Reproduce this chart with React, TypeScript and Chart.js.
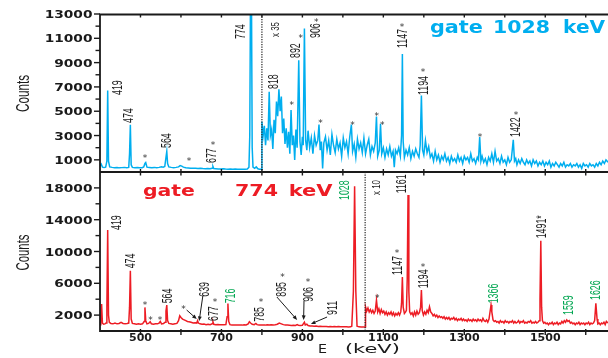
import React, { useEffect, useRef } from "react";
import { Chart, registerables } from "chart.js";
Chart.register(...registerables);

const E_MIN = 400;
const E_MAX = 1655;

// ---- gate 1028 keV spectrum (upper panel); below 800 keV as measured, above 800 keV shown x35 ----
const gate1028LowE = [
  400, 403, 406, 410, 414, 417, 419, 421, 424, 430,
  436, 442, 448, 454, 460, 466, 471, 473, 475, 477,
  480, 486, 492, 498, 504, 508, 511, 513, 516, 522,
  528, 534, 540, 546, 552, 556, 560, 563, 565, 567,
  570, 576, 582, 588, 594, 598, 602, 606, 612, 618,
  624, 630, 636, 642, 648, 654, 660, 666, 672, 677,
  679, 681, 686, 692, 698, 704, 710, 716, 722, 728,
  734, 740, 746, 752, 758, 764, 768, 770, 772, 774,
  776, 778, 782, 786, 790, 794, 798, 800,
];
const gate1028LowCounts = [
  500, 650, 400, 380, 400, 900, 6700, 900, 420, 380,
  350, 370, 340, 360, 380, 350, 380, 1500, 3880, 600,
  380, 350, 360, 340, 350, 420, 700, 780, 400, 380,
  360, 380, 350, 380, 430, 400, 450, 1200, 1690, 700,
  420, 380, 350, 380, 420, 530, 480, 400, 350, 330,
  310, 300, 310, 290, 300, 280, 270, 280, 260, 300,
  450, 280, 270, 250, 240, 260, 240, 230, 250, 230,
  240, 220, 230, 220, 230, 250, 400, 3000, 16000, 16000,
  2000, 400, 300, 420, 260, 230, 220, 250,
];
const gate1028HighE = [
  800, 803, 806, 809, 812, 815, 818, 821, 824, 827,
  830, 833, 836, 839, 842, 845, 848, 851, 854, 857,
  860, 863, 866, 869, 872, 875, 878, 881, 884, 887,
  891, 894, 897, 900, 902, 905, 908, 911, 914, 918,
  922, 926, 930, 934, 938, 941, 944, 947, 950, 953,
  957, 961, 965, 969, 973, 977, 981, 985, 989, 993,
  997, 1001, 1005, 1009, 1013, 1017, 1021, 1024, 1028, 1032,
  1036, 1040, 1044, 1048, 1052, 1056, 1060, 1064, 1068, 1072,
  1076, 1080, 1083, 1086, 1090, 1093, 1096, 1100, 1104, 1108,
  1112, 1116, 1120, 1124, 1127, 1130, 1134, 1138, 1142, 1145,
  1147, 1149, 1152, 1156, 1160, 1164, 1168, 1172, 1176, 1180,
  1184, 1188, 1191, 1194, 1197, 1200, 1204, 1208, 1212, 1216,
  1220, 1224, 1228, 1232, 1236, 1240, 1244, 1248, 1252, 1256,
  1260, 1264, 1268, 1272, 1276, 1280, 1284, 1288, 1292, 1296,
  1300, 1304, 1308, 1312, 1316, 1320, 1324, 1328, 1332, 1335,
  1338, 1341, 1344, 1348, 1352, 1356, 1360, 1364, 1368, 1372,
  1376, 1380, 1384, 1388, 1392, 1396, 1400, 1404, 1408, 1412,
  1416, 1421, 1424, 1427, 1430, 1434, 1438, 1442, 1446, 1450,
  1454, 1458, 1462, 1466, 1470, 1474, 1478, 1482, 1486, 1490,
  1494, 1498, 1502, 1506, 1510, 1514, 1518, 1522, 1526, 1530,
  1534, 1538, 1542, 1546, 1550, 1554, 1558, 1562, 1566, 1570,
  1574, 1578, 1582, 1586, 1590, 1594, 1598, 1602, 1606, 1610,
  1614, 1618, 1622, 1626, 1630, 1634, 1638, 1642, 1646, 1650,
  1655,
];
const gate1028HighCounts = [
  4150, 3000, 3800, 2200, 3600, 2600, 6600, 3000, 3500, 1900,
  4300, 3200, 5800, 4600, 6800, 5000, 6200, 3200, 4400, 2300,
  3600, 2000, 3300, 1500, 5100, 2200, 3000, 1000, 3500, 2000,
  9200, 2500, 1400, 2900, 2200, 11800, 2600, 1800, 3400, 2000,
  2800, 1500, 3000, 2200, 2600, 3900, 1800, 2500, 300, 2400,
  2900, 1800, 2600, 1400, 3100, 2200, 1600, 2700, 1900, 2400,
  1300, 2800, 2000, 2500, 1500, 2900, 3900, 1700, 2300, 1200,
  2700, 1900, 2400, 1600, 2800, 1500, 2200, 2700, 1400, 2100,
  1700, 2400, 4560, 1300, 1800, 3960, 1500, 2000, 1200, 1900,
  1400, 2100, 1300, 1700, 400, 1800, 1500, 2000, 1300, 3000,
  9700, 2500, 1200, 1800, 1400, 2000, 1100, 1700, 1300, 1900,
  1500, 1200, 2200, 6290, 1800, 1400, 2600, 1600, 2100, 1200,
  1500, 900, 1700, 1000, 1400, 800, 1300, 1000, 1500, 900,
  1200, 700, 1300, 900, 1100, 800, 1400, 900, 1200, 700,
  1300, 1000, 1200, 800, 1500, 900, 1100, 700, 1200, 1000,
  2870, 900, 1300, 800, 1100, 600, 1200, 900, 1500, 800,
  1700, 900, 1100, 700, 1300, 800, 1000, 600, 1200, 800,
  1000, 2650, 900, 1100, 600, 1000, 700, 1100, 800, 600,
  1000, 700, 900, 500, 1000, 700, 900, 500, 800, 600,
  900, 500, 800, 600, 900, 400, 700, 500, 800, 600,
  400, 700, 500, 800, 400, 600, 500, 700, 400, 600,
  500, 700, 400, 600, 300, 700, 500, 600, 400, 700,
  500, 600, 400, 700, 500, 800, 600, 900, 700, 1000,
  800,
];

// ---- gate 774 keV spectrum (lower panel); above 1055 keV shown x10 ----
const gate774LowE = [
  400, 402, 404, 406, 409, 412, 415, 417, 419, 421,
  423, 427, 432, 437, 442, 447, 452, 457, 462, 467,
  471, 473, 475, 477, 480, 485, 490, 495, 500, 505,
  509, 511, 513, 516, 520, 524, 527, 532, 537, 542,
  546, 549, 552, 557, 561, 563, 565, 567, 570, 575,
  580, 585, 590, 594, 597, 600, 604, 608, 612, 616,
  620, 625, 630, 635, 639, 641, 643, 647, 652, 657,
  662, 667, 672, 677, 679, 681, 686, 691, 696, 701,
  706, 711, 714, 716, 718, 721, 726, 731, 736, 741,
  746, 751, 756, 761, 766, 769, 772, 776, 781, 785,
  788, 793, 798, 803, 808, 813, 818, 823, 828, 833,
  838, 843, 848, 853, 858, 863, 868, 873, 878, 883,
  887, 890, 895, 900, 903, 905, 907, 911, 914, 919,
  924, 929, 934, 939, 944, 949, 954, 959, 964, 969,
  974, 979, 984, 989, 994, 999, 1004, 1009, 1014, 1019,
  1022, 1026, 1029, 1032, 1035, 1040, 1045, 1050, 1055,
];
const gate774LowCounts = [
  800, 1200, 3390, 1000, 850, 900, 1000, 3000, 12700, 2000,
  1100, 950, 900, 1000, 900, 950, 1100, 950, 900, 950,
  1000, 3000, 7580, 1500, 950, 900, 850, 900, 850, 900,
  1200, 2970, 1300, 900, 950, 1160, 900, 850, 900, 900,
  1000, 1200, 900, 950, 1100, 2500, 3260, 1300, 950, 900,
  850, 900, 950, 1300, 1920, 1700, 1500, 1400, 1300, 1200,
  1150, 1100, 1000, 1050, 1000, 1290, 1000, 900, 850, 880,
  800, 850, 800, 900, 1160, 850, 800, 820, 780, 800,
  780, 800, 1800, 3470, 1200, 800, 760, 740, 760, 740,
  760, 740, 780, 760, 900, 1160, 1000, 850, 800, 950,
  800, 760, 740, 760, 740, 780, 760, 800, 760, 800,
  850, 1000, 900, 800, 760, 740, 720, 700, 720, 700,
  800, 720, 700, 720, 960, 1100, 750, 850, 680, 640,
  620, 600, 620, 580, 600, 570, 560, 580, 550, 560,
  540, 560, 530, 550, 520, 540, 520, 530, 510, 520,
  600, 5000, 18200, 5000, 600, 520, 500, 510, 500,
];
const gate774HighE = [
  1056, 1059, 1062, 1065, 1068, 1071, 1074, 1077, 1080, 1083,
  1086, 1089, 1092, 1095, 1098, 1101, 1104, 1107, 1110, 1113,
  1116, 1119, 1122, 1125, 1128, 1131, 1134, 1137, 1140, 1143,
  1145, 1147, 1149, 1152, 1155, 1157, 1159, 1161, 1163, 1165,
  1168, 1171, 1174, 1177, 1180, 1183, 1186, 1189, 1192, 1194,
  1196, 1199, 1202, 1205, 1208, 1211, 1214, 1217, 1220, 1223,
  1226, 1229, 1232, 1235, 1238, 1241, 1244, 1247, 1250, 1253,
  1256, 1259, 1262, 1265, 1268, 1271, 1274, 1277, 1280, 1283,
  1286, 1289, 1292, 1295, 1298, 1301, 1304, 1307, 1310, 1313,
  1316, 1319, 1322, 1325, 1328, 1331, 1334, 1337, 1340, 1343,
  1346, 1349, 1352, 1355, 1358, 1361, 1363, 1366, 1368, 1371,
  1374, 1377, 1380, 1383, 1386, 1389, 1392, 1395, 1398, 1401,
  1404, 1407, 1410, 1413, 1416, 1419, 1422, 1425, 1428, 1431,
  1434, 1437, 1440, 1443, 1446, 1449, 1452, 1455, 1458, 1461,
  1464, 1467, 1470, 1473, 1476, 1479, 1482, 1485, 1487, 1489,
  1491, 1493, 1496, 1499, 1502, 1505, 1508, 1511, 1514, 1517,
  1520, 1523, 1526, 1529, 1532, 1535, 1538, 1541, 1544, 1547,
  1550, 1553, 1556, 1559, 1562, 1565, 1568, 1571, 1574, 1577,
  1580, 1583, 1586, 1589, 1592, 1595, 1598, 1601, 1604, 1607,
  1610, 1613, 1616, 1619, 1622, 1625, 1628, 1630, 1633, 1636,
  1639, 1642, 1645, 1648, 1651, 1655,
];
const gate774HighCounts = [
  3050, 2500, 2900, 2400, 2700, 2300, 2600, 2200, 2500, 3890,
  2400, 2800, 2200, 2700, 2300, 2500, 2100, 2400, 2000, 2300,
  2100, 2400, 2000, 2300, 1900, 2200, 2000, 2300, 2000, 2400,
  3500, 6800, 3000, 2200, 2400, 2600, 6500, 17100, 5000, 2400,
  2100, 2300, 1900, 2400, 2000, 2500, 2100, 2300, 3000, 5150,
  2600, 2000, 2400, 2100, 2600, 2300, 3050, 2400, 2200, 1900,
  2100, 1800, 2000, 1700, 1900, 1700, 1800, 1600, 1800, 1500,
  1700, 1500, 1700, 1400, 1600, 1500, 1700, 1400, 1600, 1300,
  1500, 1400, 1600, 1300, 1500, 1300, 1400, 1200, 1500, 1300,
  1400, 1200, 1500, 1300, 1400, 1200, 1500, 1300, 1400, 1200,
  1600, 1300, 1200, 1400, 1100, 1500, 2200, 3260, 2400, 1400,
  1200, 1300, 1100, 1200, 1000, 1300, 1100, 1200, 1000, 1300,
  1100, 1200, 1000, 1200, 1100, 1300, 1000, 1200, 1000, 1100,
  1300, 1000, 1200, 1100, 1300, 1000, 1100, 1000, 1200, 1100,
  1300, 1000, 1100, 1000, 1200, 1000, 1100, 1300, 4000, 11360,
  3000, 1300, 1000, 1100, 900, 1000, 800, 1000, 900, 1100,
  800, 1000, 900, 1100, 800, 1000, 900, 1200, 1000, 1300,
  1100, 1400, 1200, 1300, 1000, 1100, 900, 1000, 800, 1000,
  900, 1100, 800, 1000, 900, 1000, 800, 1000, 900, 1100,
  800, 1000, 900, 1000, 1300, 3470, 1500, 900, 1000, 800,
  1000, 900, 1100, 800, 1200, 1000,
];

// ---- axes ----
const xTickValues = [500, 600, 700, 800, 900, 1000, 1100, 1200, 1300, 1400, 1500, 1600];
const xLabelValues = [500, 700, 900, 1100, 1300, 1500];
const topYTickValues = [1000, 2000, 3000, 4000, 5000, 6000, 7000, 8000, 9000, 10000, 11000, 12000, 13000];
const topYLabelValues = [1000, 3000, 5000, 7000, 9000, 11000, 13000];
const botYTickValues = [2000, 4000, 6000, 8000, 10000, 12000, 14000, 16000, 18000];
const botYLabelValues = [2000, 6000, 10000, 14000, 18000];
const topScaleBreak = 800; // x35 above
const botScaleBreak = 1055; // x10 above

// ---- annotations (text, energy, counts) ----
const topPeakLabels: [string, number, number][] = [
  ["419", 442, 6336], ["474", 470, 4032], ["564", 562, 1975], ["677", 675, 741],
  ["774", 746, 10943], ["818", 827, 6829], ["892", 882, 9380], ["906", 931, 11025],
  ["1147", 1145, 10203], ["1194", 1197, 6336], ["1422", 1425, 2880],
];
const topStars: [number, number][] = [
  [511, 1316], [620, 1070], [679, 2386], [874, 5702], [896, 11190], [934, 12507],
  [945, 4221], [1024, 4007], [1084, 4772], [1097, 4007], [1146, 12095], [1198, 8393],
  [1339, 3044], [1428, 4879],
];
const botPeakLabels: [string, number, number, boolean][] = [
  ["419", 440, 12706, false], ["474", 473, 7888, false], ["564", 565, 3485, false],
  ["639", 656, 4315, false], ["677", 679, 1258, false], ["716", 721, 3485, true],
  ["785", 792, 1170, false], ["895", 847, 4315, false], ["906", 913, 3686, false],
  ["911", 972, 2013, false], ["1028", 1003, 16480, true], ["1161", 1144, 17323, false],
  ["1147", 1133, 7045, false], ["1194", 1198, 5372, false], ["1366", 1371, 3485, true],
  ["1491*", 1489, 11662, false], ["1559", 1556, 2013, true], ["1626", 1623, 3900, true],
];
const botStars: [number, number][] = [
  [511, 3485], [525, 1673], [548, 1673], [606, 2981], [684, 3900], [798, 3900],
  [851, 7045], [914, 6416], [1085, 4403], [1134, 10064], [1198, 8302],
];
const botArrows: [number, number, number, number][] = [
  [614, 2642, 639, 1510], [654, 4403, 645, 1258], [837, 4277, 887, 1384],
  [904, 3774, 903, 1384], [961, 1761, 921, 881],
];

const BLUE = "#00AEEF";
const RED = "#ED1C24";
const GREEN = "#00A651";
const INK = "#1a1a1a";
const SANS = '"Liberation Sans", Arial, sans-serif';
const WIDE = '"DejaVu Sans", Verdana, sans-serif';

type TxtOpt = {
  size: number; family?: string; weight?: string; color?: string;
  align?: CanvasTextAlign; rot?: boolean; sx?: number; w?: number; dy?: number;
};

function txt(ctx: CanvasRenderingContext2D, s: string, x: number, y: number, o: TxtOpt) {
  ctx.save();
  ctx.font = `${o.weight ?? "normal"} ${o.size}px ${o.family ?? SANS}`;
  ctx.fillStyle = o.color ?? INK;
  ctx.textAlign = o.align ?? "left";
  ctx.textBaseline = "alphabetic";
  ctx.translate(x, y);
  if (o.rot) ctx.rotate(-Math.PI / 2);
  let sx = o.sx ?? 1;
  if (o.w) sx = o.w / ctx.measureText(s).width;
  ctx.scale(sx, 1);
  ctx.fillText(s, 0, o.dy ?? 0);
  ctx.restore();
}

function peakLabel(ctx: CanvasRenderingContext2D, s: string, x: number, y: number, color = INK) {
  txt(ctx, s, x, y, { size: 14, rot: true, sx: 0.63, dy: 5, color });
}

function star(ctx: CanvasRenderingContext2D, x: number, y: number) {
  txt(ctx, "*", x, y + 5, { size: 9, family: WIDE, align: "center", color: "#333" });
}

function arrow(ctx: CanvasRenderingContext2D, x1: number, y1: number, x2: number, y2: number) {
  const ang = Math.atan2(y2 - y1, x2 - x1);
  const h = 5;
  ctx.save();
  ctx.strokeStyle = INK;
  ctx.fillStyle = INK;
  ctx.lineWidth = 1;
  ctx.beginPath();
  ctx.moveTo(x1, y1);
  ctx.lineTo(x2 - Math.cos(ang) * 3, y2 - Math.sin(ang) * 3);
  ctx.stroke();
  ctx.beginPath();
  ctx.moveTo(x2, y2);
  ctx.lineTo(x2 - h * Math.cos(ang - 0.4), y2 - h * Math.sin(ang - 0.4));
  ctx.lineTo(x2 - h * Math.cos(ang + 0.4), y2 - h * Math.sin(ang + 0.4));
  ctx.closePath();
  ctx.fill();
  ctx.restore();
}

function line(ctx: CanvasRenderingContext2D, x1: number, y1: number, x2: number, y2: number) {
  ctx.beginPath();
  ctx.moveTo(x1, y1);
  ctx.lineTo(x2, y2);
  ctx.stroke();
}

function drawYAxis(ctx: CanvasRenderingContext2D, chart: any, ticks: number[], labels: number[]) {
  const a = chart.chartArea;
  const ys = chart.scales.y;
  ctx.strokeStyle = INK;
  ctx.lineWidth = 1.4;
  for (const v of ticks) {
    const py = ys.getPixelForValue(v);
    const major = labels.includes(v);
    line(ctx, a.left - (major ? 6 : 4.5), py, a.left, py);
    if (major) {
      txt(ctx, String(v), a.left - 7.5, py + 4, { size: 11, family: WIDE, weight: "bold", align: "right", sx: 1.25 });
    }
  }
}

function dotted(ctx: CanvasRenderingContext2D, x: number, y1: number, y2: number) {
  ctx.save();
  ctx.strokeStyle = "#222";
  ctx.lineWidth = 1.2;
  ctx.setLineDash([1.2, 1.3]);
  line(ctx, x, y1, x, y2);
  ctx.restore();
}

const topPlugin = {
  id: "topDecor",
  afterDatasetsDraw(chart: any) {
    const { ctx, chartArea: a } = chart;
    const xs = chart.scales.x;
    const ys = chart.scales.y;
    const X = (e: number) => xs.getPixelForValue(e);
    const Y = (v: number) => ys.getPixelForValue(v);
    ctx.save();
    dotted(ctx, X(topScaleBreak), a.top, a.bottom);
    ctx.strokeStyle = INK;
    ctx.lineWidth = 1.8;
    ctx.beginPath();
    ctx.moveTo(a.left, a.bottom);
    ctx.lineTo(a.left, a.top + 0.5);
    ctx.lineTo(a.right, a.top + 0.5);
    ctx.stroke();
    line(ctx, a.left, a.bottom, a.right, a.bottom);
    ctx.lineWidth = 1.4;
    for (const e of xTickValues) {
      line(ctx, X(e), a.top, X(e), a.top + 3.5);
      line(ctx, X(e), a.bottom - 3, X(e), a.bottom + 3.5);
    }
    drawYAxis(ctx, chart, topYTickValues, topYLabelValues);
    txt(ctx, "Counts", a.left - 77.5, Y(6459), { size: 19, rot: true, align: "center", w: 37, dy: 6.8 });
    for (const [s, e, v] of topPeakLabels) peakLabel(ctx, s, X(e), Y(v));
    for (const [e, v] of topStars) star(ctx, X(e), Y(v));
    txt(ctx, "x 35", X(834), Y(11108), { size: 10, rot: true, w: 15, dy: 3.5 });
    const base = Y(11396);
    txt(ctx, "gate", X(1215), base, { size: 17.5, family: WIDE, weight: "bold", color: BLUE, w: 53 });
    txt(ctx, "1028", X(1371), base, { size: 17.5, family: WIDE, weight: "bold", color: BLUE, w: 57 });
    txt(ctx, "keV", X(1544), base, { size: 17.5, family: WIDE, weight: "bold", color: BLUE, w: 42 });
    ctx.restore();
  },
};

const botPlugin = {
  id: "botDecor",
  afterDatasetsDraw(chart: any) {
    const { ctx, chartArea: a } = chart;
    const xs = chart.scales.x;
    const ys = chart.scales.y;
    const X = (e: number) => xs.getPixelForValue(e);
    const Y = (v: number) => ys.getPixelForValue(v);
    ctx.save();
    dotted(ctx, X(botScaleBreak), a.top, a.bottom);
    ctx.strokeStyle = INK;
    ctx.lineWidth = 1.8;
    ctx.beginPath();
    ctx.moveTo(a.left, a.top);
    ctx.lineTo(a.left, a.bottom);
    ctx.lineTo(a.right, a.bottom);
    ctx.stroke();
    ctx.lineWidth = 1.4;
    for (const e of xTickValues) {
      line(ctx, X(e), a.bottom - 2, X(e), a.bottom + 4);
    }
    for (const e of xLabelValues) {
      txt(ctx, String(e), X(e), a.bottom + 9.7, { size: 10, family: WIDE, weight: "bold", align: "center", sx: 1.1 });
    }
    txt(ctx, "E", X(938.5), a.bottom + 22.3, { size: 11.5, family: WIDE, w: 9 });
    txt(ctx, "(keV)", X(1005), a.bottom + 22.3, { size: 11.5, family: WIDE, w: 55 });
    drawYAxis(ctx, chart, botYTickValues, botYLabelValues);
    txt(ctx, "Counts", a.left - 77.5, Y(9875), { size: 19, rot: true, align: "center", w: 36, dy: 6.8 });
    for (const [x1, y1, x2, y2] of botArrows) arrow(ctx, X(x1), Y(y1), X(x2), Y(y2));
    for (const [s, e, v, g] of botPeakLabels) peakLabel(ctx, s, X(e), Y(v), g ? GREEN : INK);
    for (const [e, v] of botStars) star(ctx, X(e), Y(v));
    txt(ctx, "x 10", X(1084), Y(17109), { size: 10, rot: true, w: 15, dy: 3.5 });
    const base = Y(16983);
    txt(ctx, "gate", X(506), base, { size: 16.5, family: WIDE, weight: "bold", color: RED, w: 52 });
    txt(ctx, "774", X(733.5), base, { size: 16.5, family: WIDE, weight: "bold", color: RED, w: 43 });
    txt(ctx, "keV", X(866), base, { size: 16.5, family: WIDE, weight: "bold", color: RED, w: 44 });
    ctx.restore();
  },
};

function toPoints(E: number[], C: number[]) {
  return E.map((x, i) => ({ x, y: C[i] }));
}

function buildChart(
  canvas: HTMLCanvasElement,
  pts: { x: number; y: number }[],
  color: string,
  yMax: number,
  padding: { left: number; right: number; top: number; bottom: number },
  plugin: any
) {
  return new Chart(canvas, {
    type: "line",
    data: {
      datasets: [
        {
          data: pts,
          borderColor: color,
          borderWidth: 1.5,
          pointRadius: 0,
          tension: 0,
          fill: false,
        },
      ],
    },
    options: {
      responsive: false,
      maintainAspectRatio: false,
      animation: false,
      events: [],
      layout: { padding },
      scales: {
        x: { type: "linear", min: E_MIN, max: E_MAX, display: false },
        y: { type: "linear", min: 0, max: yMax, display: false },
      },
      plugins: {
        legend: { display: false },
        tooltip: { enabled: false },
        title: { display: false },
      },
    },
    plugins: [plugin],
  } as any);
}

export default function App() {
  const topRef = useRef<HTMLCanvasElement>(null);
  const botRef = useRef<HTMLCanvasElement>(null);

  useEffect(() => {
    const topPts = [
      ...toPoints(gate1028LowE, gate1028LowCounts),
      ...toPoints(gate1028HighE, gate1028HighCounts),
    ];
    const botPts = [
      ...toPoints(gate774LowE, gate774LowCounts),
      ...toPoints(gate774HighE, gate774HighCounts),
    ];
    const top = buildChart(topRef.current!, topPts, BLUE, 13000, { left: 100, right: 0, top: 14, bottom: 186 }, topPlugin);
    const bot = buildChart(botRef.current!, botPts, RED, 20000, { left: 100, right: 0, top: 172, bottom: 27 }, botPlugin);
    return () => {
      top.destroy();
      bot.destroy();
    };
  }, []);

  return (
    <div style={{ position: "absolute", left: 0, top: 0, width: 608, height: 358, background: "#fff", overflow: "hidden" }}>
      <canvas ref={topRef} width={608} height={358} style={{ position: "absolute", left: 0, top: 0 }} />
      <canvas ref={botRef} width={608} height={358} style={{ position: "absolute", left: 0, top: 0 }} />
    </div>
  );
}
